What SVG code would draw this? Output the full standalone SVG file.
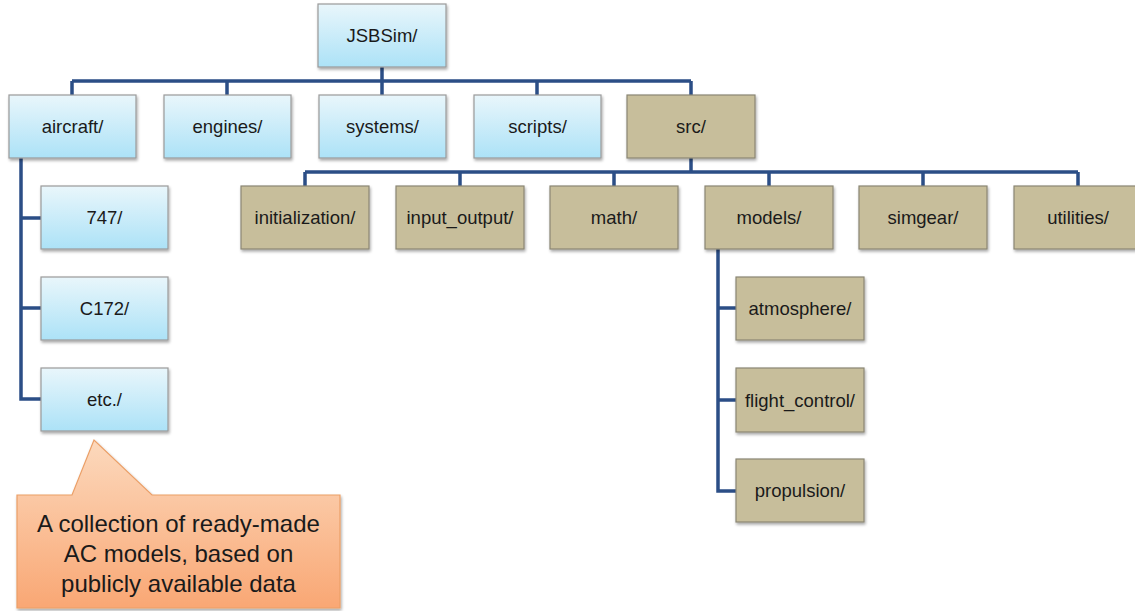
<svg xmlns="http://www.w3.org/2000/svg" width="1135" height="611" viewBox="0 0 1135 611">
<defs>
<linearGradient id="gBlue" x1="0" y1="0" x2="0" y2="1">
<stop offset="0" stop-color="#e9f6fb"/>
<stop offset="1" stop-color="#ace2f7"/>
</linearGradient>
<linearGradient id="gOrange" x1="0" y1="0" x2="0" y2="1">
<stop offset="0" stop-color="#fcd9bd"/>
<stop offset="1" stop-color="#f9a774"/>
</linearGradient>
<filter id="sh" x="-10%" y="-10%" width="130%" height="140%">
<feGaussianBlur in="SourceAlpha" stdDeviation="1.5"/>
<feOffset dx="1" dy="2" result="b"/>
<feComponentTransfer><feFuncA type="linear" slope="0.35"/></feComponentTransfer>
<feMerge><feMergeNode/><feMergeNode in="SourceGraphic"/></feMerge>
</filter>
</defs>
<style>
.blue{fill:url(#gBlue);stroke:#9a9a9a;stroke-width:1.2;filter:url(#sh)}
.tan{fill:#c7be9b;stroke:#8a8674;stroke-width:1.2;filter:url(#sh)}
.t{font-family:"Liberation Sans",Arial,sans-serif;font-size:18.5px;fill:#1a1a1a;text-anchor:middle;dominant-baseline:central}
.c{fill:none;stroke:#2b4e86;stroke-width:3.5}
.ct{font-family:"Liberation Sans",Arial,sans-serif;font-size:24px;fill:#1a1a1a;text-anchor:middle}
</style>
<rect width="1135" height="611" fill="#ffffff"/>
<g id="connectors">
<path class="c" d="M382 67V81M72 81H691M72 81V95M227 81V95M382 81V95M537 81V95M691 81V95"/>
<path class="c" d="M691 158V172M305 172H1078M305 172V186M460 172V186M614 172V186M769 172V186M923 172V186M1078 172V186"/>
<path class="c" d="M21 158V399H41M21 218H41M21 308H41"/>
<path class="c" d="M718 249V491H736M718 308H736M718 400H736"/>
</g>
<g id="n-jsbsim"><rect class="blue" x="318" y="4" width="128" height="63"/><text class="t" x="382" y="35.5">JSBSim/</text></g>
<g id="n-aircraft"><rect class="blue" x="9" y="95" width="127" height="63"/><text class="t" x="72.5" y="126.5">aircraft/</text></g>
<g id="n-engines"><rect class="blue" x="164" y="95" width="127" height="63"/><text class="t" x="227.5" y="126.5">engines/</text></g>
<g id="n-systems"><rect class="blue" x="319" y="95" width="127" height="63"/><text class="t" x="382.5" y="126.5">systems/</text></g>
<g id="n-scripts"><rect class="blue" x="474" y="95" width="127" height="63"/><text class="t" x="537.5" y="126.5">scripts/</text></g>
<g id="n-src"><rect class="tan" x="627" y="95" width="128" height="63"/><text class="t" x="691" y="126.5">src/</text></g>
<g id="n-747"><rect class="blue" x="41" y="186" width="127" height="63"/><text class="t" x="104.5" y="217.5">747/</text></g>
<g id="n-c172"><rect class="blue" x="41" y="277" width="127" height="63"/><text class="t" x="104.5" y="308.5">C172/</text></g>
<g id="n-etc"><rect class="blue" x="41" y="368" width="127" height="63"/><text class="t" x="104.5" y="399.5">etc./</text></g>
<g id="n-initialization"><rect class="tan" x="241" y="186" width="128" height="63"/><text class="t" x="305" y="217.5">initialization/</text></g>
<g id="n-input_output"><rect class="tan" x="396" y="186" width="128" height="63"/><text class="t" x="460" y="217.5">input_output/</text></g>
<g id="n-math"><rect class="tan" x="550" y="186" width="128" height="63"/><text class="t" x="614" y="217.5">math/</text></g>
<g id="n-models"><rect class="tan" x="705" y="186" width="128" height="63"/><text class="t" x="769" y="217.5">models/</text></g>
<g id="n-simgear"><rect class="tan" x="859" y="186" width="128" height="63"/><text class="t" x="923" y="217.5">simgear/</text></g>
<g id="n-utilities"><rect class="tan" x="1014" y="186" width="128" height="63"/><text class="t" x="1078" y="217.5">utilities/</text></g>
<g id="n-atmosphere"><rect class="tan" x="736" y="277" width="128" height="63"/><text class="t" x="800" y="308.5">atmosphere/</text></g>
<g id="n-flight_control"><rect class="tan" x="736" y="368" width="128" height="64"/><text class="t" x="800" y="400">flight_control/</text></g>
<g id="n-propulsion"><rect class="tan" x="736" y="459" width="128" height="63"/><text class="t" x="800" y="490.5">propulsion/</text></g>
<g id="callout">
<path d="M17 495H72L94 440L152 495H340V608H17Z" fill="url(#gOrange)" stroke="#eb9f67" stroke-width="1.2" filter="url(#sh)"/>
<text class="ct" x="178.5" y="532">A collection of ready-made</text>
<text class="ct" x="178.5" y="562">AC models, based on</text>
<text class="ct" x="178.5" y="592">publicly available data</text>
</g>
</svg>
